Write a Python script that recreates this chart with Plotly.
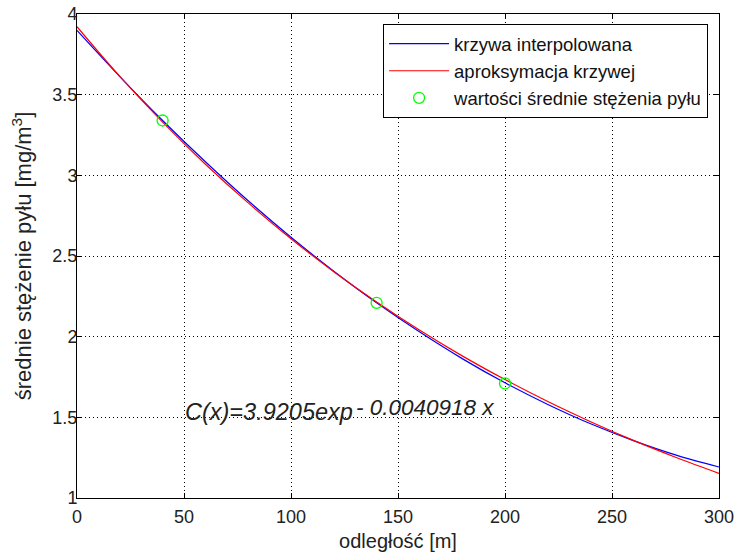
import plotly.graph_objects as go

# distance samples [m]
x_curve = [0, 20, 40, 60, 80, 100, 120, 140, 160, 180, 200, 220, 240, 260, 280, 300]
# interpolated curve (blue)
y_interp = [3.898, 3.612, 3.340, 3.084, 2.842, 2.616, 2.406, 2.210, 2.030, 1.864, 1.714, 1.580, 1.460, 1.356, 1.266, 1.192]
# approximation curve (red)
y_approx = [3.921, 3.613, 3.330, 3.069, 2.829, 2.607, 2.403, 2.215, 2.041, 1.881, 1.734, 1.598, 1.473, 1.357, 1.251, 1.153]
# measured mean values (green circles)
x_pts = [40, 140, 200]
y_pts = [3.34, 2.21, 1.71]

x_ticks = [0, 50, 100, 150, 200, 250, 300]
y_ticks = [1, 1.5, 2, 2.5, 3, 3.5, 4]

FONT = "Liberation Sans, Arial, sans-serif"
TXT = "#222222"

fig = go.Figure()
fig.add_trace(go.Scatter(x=x_curve, y=y_interp, mode="lines", line=dict(color="#0000ff", width=1.2, shape="spline"),
                         name="krzywa interpolowana"))
fig.add_trace(go.Scatter(x=x_curve, y=y_approx, mode="lines", line=dict(color="#ff0000", width=1.2, shape="spline"),
                         name="aproksymacja krzywej"))
fig.add_trace(go.Scatter(x=x_pts, y=y_pts, mode="markers",
                         marker=dict(symbol="circle-open", size=11, color="#00ff00", line=dict(width=1.3, color="#00ff00")),
                         name="wartości średnie stężenia pyłu"))

axis_common = dict(
    showline=True, linecolor="black", linewidth=1, mirror="allticks",
    ticks="inside", ticklen=5, tickcolor="black",
    showgrid=True, gridcolor="black", gridwidth=1, griddash="1px,3px",
    zeroline=False, automargin=False, ticklabeloverflow="allow",
    tickfont=dict(family=FONT, size=18, color=TXT),
)

fig.update_xaxes(range=[0, 300], tickvals=x_ticks, ticklabelstandoff=2,
                 title=dict(text="odległość [m]", font=dict(family=FONT, size=20, color=TXT), standoff=8),
                 **axis_common)
fig.update_yaxes(range=[1, 4], tickvals=y_ticks, ticklabelstandoff=-5,
                 title=dict(text="średnie stężenie pyłu [mg/m<sup>3</sup>]", font=dict(family=FONT, size=22, color=TXT), standoff=14),
                 **axis_common)

fig.add_annotation(x=50, y=1.53, xref="x", yref="y", xanchor="left", yanchor="middle",
                   text="<i>C(x)=3.9205exp</i>", showarrow=False, borderpad=0,
                   font=dict(family=FONT, size=23.5, color=TXT))
fig.add_annotation(x=130, y=1.56, xref="x", yref="y", xanchor="left", yanchor="middle",
                   text="<i>- 0.0040918 x</i>", showarrow=False, borderpad=0,
                   font=dict(family=FONT, size=22.5, color=TXT))

fig.update_layout(
    width=734, height=556,
    margin=dict(l=77, r=15, t=14, b=58),
    paper_bgcolor="white", plot_bgcolor="white",
    showlegend=True,
    legend=dict(x=0.983, y=0.979, xanchor="right", yanchor="top",
                bgcolor="white", bordercolor="black", borderwidth=1,
                font=dict(family=FONT, size=18.5, color="#111111"),
                itemwidth=60, tracegroupgap=0),
)

# remove the default page margin so the figure sits at the window's corner
fig.write_html("out.html", config={"displayModeBar": False},
               post_script="document.body.style.margin='0';")
